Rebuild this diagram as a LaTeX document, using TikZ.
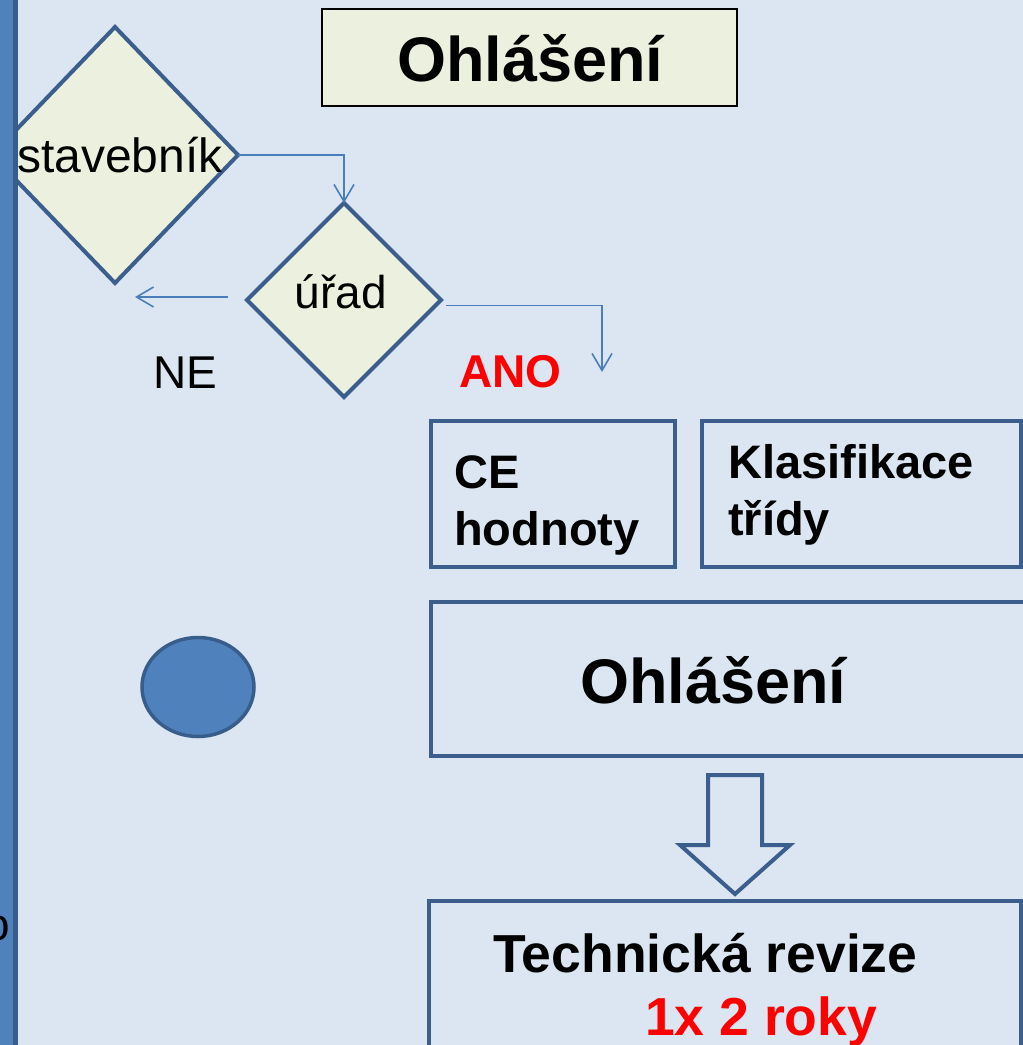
\documentclass[tikz,border=0pt]{standalone}
\usepackage{fontspec}
\setmainfont{Liberation Sans}
\usetikzlibrary{shapes.geometric,arrows.meta}
\definecolor{bgblue}{HTML}{DCE6F2}
\definecolor{barblue}{HTML}{4F81BD}
\definecolor{bardark}{HTML}{385D8A}
\definecolor{paleolive}{HTML}{EBF1DE}
\definecolor{edgeblue}{HTML}{3B5E8C}
\definecolor{linkblue}{HTML}{4A7EBB}
\tikzset{
  decision/.style={diamond, draw=edgeblue, fill=paleolive, line width=4pt,
    inner sep=0pt, outer sep=0pt, font=\fontsize{46}{50}\selectfont},
  panel/.style={draw=edgeblue, line width=4pt},
  link/.style={draw=linkblue, line width=1.6pt},
  tip/.style={-{Straight Barb[length=17pt,width=20pt,line width=1.6pt]}},
  txt/.style={inner sep=0pt, anchor=base west},
  bigbold/.style={font=\fontsize{63}{70}\selectfont\bfseries},
  midbold/.style={font=\fontsize{47}{52}\selectfont\bfseries},
  revbold/.style={font=\fontsize{53.5}{58}\selectfont\bfseries},
  plain/.style={font=\fontsize{46}{50}\selectfont}
}
\begin{document}
\begin{tikzpicture}[x=1pt,y=-1pt]
% page and background
\useasboundingbox (0,0) rectangle (1023,1045);
\fill[bgblue] (0,0) rectangle (1023,1045);

% first decision, partly behind the left bar
\node[decision, minimum width=246pt, minimum height=256pt] (stav) at (115,155) {};
\node[font=\fontsize{48}{52}\selectfont, inner sep=0pt] (stavtxt) at (120,155) {stavebník};

% left bar
\fill[barblue] (0,0) rectangle (13,1045);
\fill[bardark] (13,0) rectangle (18,1045);
\node[plain, inner sep=0pt, anchor=base east] (frag) at (10,940) {o};

% title
\node[draw=black, line width=1.5pt, fill=paleolive, minimum width=415pt,
  minimum height=97pt, inner sep=0pt] (title) at (529.5,57.5) {};
\node[bigbold, txt] (titletxt) at (397,81) {Ohlášení};

% second decision
\node[decision, minimum width=194pt, minimum height=194pt] (urad) at (344,300) {};
\node[plain, inner sep=0pt] (uradtxt) at (341,292) {úřad};

% connectors
\coordinate (neStart) at (228,297);
\coordinate (neEnd) at (135,297);
\coordinate (anoStart) at (446,305.5);
\coordinate (anoEnd) at (602,372);
\draw[link, tip] (stav.east) -| (urad.north);
\draw[link, tip] (neStart) -- (neEnd);
\draw[link, tip] (anoStart) -| (anoEnd);

% branch labels
\node[plain, txt] (ne) at (153,388) {NE};
\node[font=\fontsize{46}{50}\selectfont\bfseries, text=red, txt] (ano) at (459,387) {ANO};

% CE and class boxes
\draw[panel] (431,421) rectangle (675,567);
\node[midbold, txt] (ce1) at (454,488) {CE};
\node[midbold, txt] (ce2) at (454,545) {hodnoty};
\draw[panel] (702,421) rectangle (1021,567);
\node[midbold, txt] (kl1) at (728,478) {Klasifikace};
\node[midbold, txt] (kl2) at (728,535) {třídy};

% notification box
\draw[panel] (1040,602) -- (431,602) -- (431,756) -- (1040,756);
\node[bigbold, txt] (ohl) at (580,703) {Ohlášení};

% blue circle
\node[ellipse, draw=bardark, fill=barblue, line width=3.5pt,
  minimum width=112pt, minimum height=99pt, inner sep=0pt] (dot) at (198,687) {};

% hollow block arrow
\draw[edgeblue, line width=4pt, line join=miter]
  (708,775) -- (762,775) -- (762,845) -- (790,845) -- (735,894)
  -- (680,845) -- (708,845) -- cycle;

% revision box
\draw[panel] (429,1060) -- (429,901) -- (1021,901) -- (1021,1060);
\node[revbold, txt] (rev1) at (493,972) {Technická revize};
\node[revbold, text=red, txt] (rev2) at (645,1035) {1x 2 roky};
\end{tikzpicture}
\end{document}
